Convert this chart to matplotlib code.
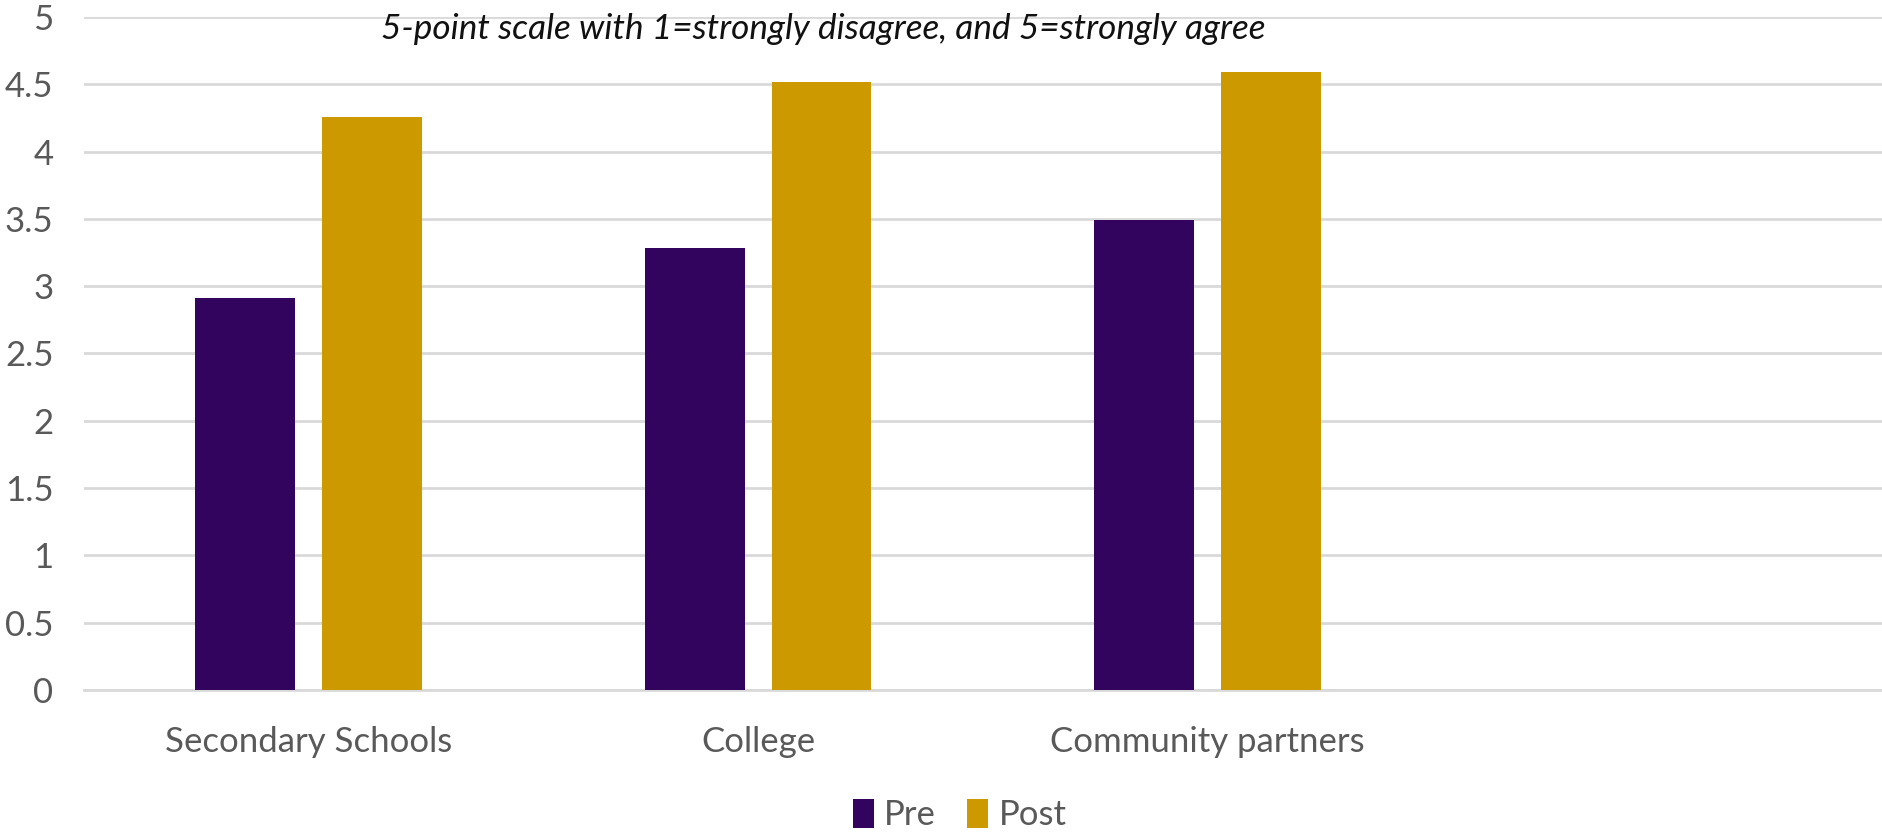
import numpy as np
import matplotlib.pyplot as plt

plt.rcParams['font.family'] = ['Lato', 'DejaVu Sans']

categories = ["Secondary Schools", "College", "Community partners", ""]
pre = [2.91, 3.28, 3.49, np.nan]
post = [4.26, 4.52, 4.59, np.nan]
yticks = [0, 0.5, 1, 1.5, 2, 2.5, 3, 3.5, 4, 4.5, 5]
yticklabels = ["0", "0.5", "1", "1.5", "2", "2.5", "3", "3.5", "4", "4.5", "5"]
note = "5-point scale with 1=strongly disagree, and 5=strongly agree"

purple = "#33045E"
gold = "#CC9900"
grid = "#D9D9D9"
label_col = "#595959"

fig = plt.figure(figsize=(18.82, 8.35), dpi=100)
ax = fig.add_axes([0.0446, 0.1737, 0.9554, 0.806])

x = np.arange(len(categories))
w = 0.222
off = 0.141
ax.bar(x - off, pre, width=w, color=purple, label="Pre", zorder=3)
ax.bar(x + off, post, width=w, color=gold, label="Post", zorder=3)

ax.set_xlim(-0.5, len(categories) - 0.5)
ax.set_ylim(0, 5)
ax.set_yticks(yticks)
ax.set_yticklabels(yticklabels)
ax.set_xticks(x)
ax.set_xticklabels(categories)
ax.grid(axis='y', color=grid, linewidth=2, zorder=0)
for s in ['top', 'right', 'left']:
    ax.spines[s].set_visible(False)
ax.spines['bottom'].set_color(grid)
ax.spines['bottom'].set_linewidth(2)
ax.tick_params(axis='both', length=0, labelsize=25, labelcolor=label_col)
ax.tick_params(axis='y', pad=22)
ax.tick_params(axis='x', pad=26)

ax.text(0.411, 0.982, note, transform=ax.transAxes, ha='center', va='center',
        fontsize=25.3, style='italic', color='#111111')

leg = fig.legend(loc='center', bbox_to_anchor=(0.51, 0.024), ncol=2, frameon=False,
                 fontsize=25, handlelength=0.6, handleheight=0.9, handletextpad=0.3,
                 columnspacing=0.9)
for t in leg.get_texts():
    t.set_color(label_col)

plt.savefig("out.png", dpi=100)
